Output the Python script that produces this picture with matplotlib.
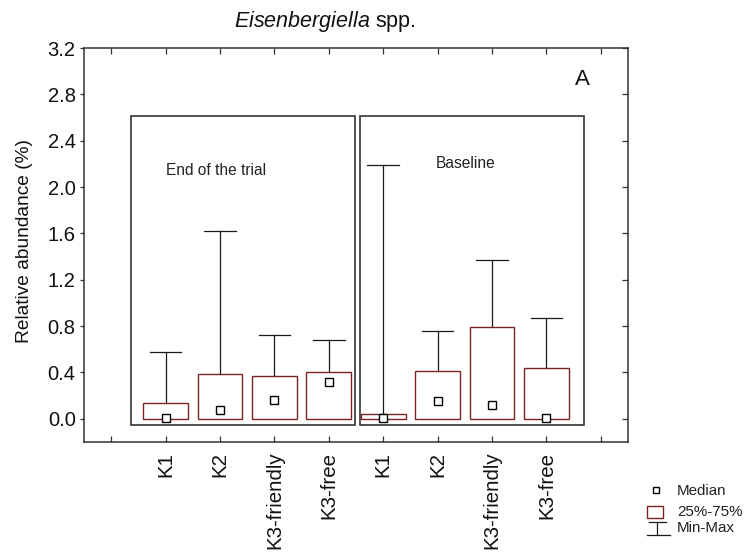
import matplotlib
matplotlib.use("Agg")
import matplotlib.pyplot as plt
from matplotlib.patches import Rectangle
from matplotlib.lines import Line2D

plt.rcParams["font.family"] = ["Liberation Sans", "DejaVu Sans"]
plt.rcParams["mathtext.fontset"] = "custom"
plt.rcParams["mathtext.it"] = "Liberation Sans:italic"
plt.rcParams["mathtext.rm"] = "Liberation Sans"

# Relative abundance of Eisenbergiella spp. per group (%)
groups = ["K1", "K2", "K3-friendly", "K3-free"]

end_q1 = [0.0, 0.0, 0.0, 0.0]
end_q3 = [0.14, 0.39, 0.37, 0.40]
end_median = [0.01, 0.08, 0.16, 0.32]
end_min = [0.0, 0.0, 0.0, 0.0]
end_max = [0.58, 1.62, 0.72, 0.68]

base_q1 = [0.0, 0.0, 0.0, 0.0]
base_q3 = [0.04, 0.41, 0.79, 0.44]
base_median = [0.01, 0.155, 0.12, 0.01]
base_min = [0.0, 0.0, 0.0, 0.0]
base_max = [2.19, 0.76, 1.37, 0.87]

period_labels = ["End of the trial", "Baseline"]
y_ticks = [0.0, 0.4, 0.8, 1.2, 1.6, 2.0, 2.4, 2.8, 3.2]

BOX_EDGE = "#7d2222"
LINE = "#1a1a1a"

W, H = 745, 559
fig = plt.figure(figsize=(W / 100, H / 100), dpi=100)
ax = fig.add_axes([84 / W, 1 - 442 / H, (628 - 84) / W, (442 - 48) / H])

box_w = 0.82
cap_w = 0.58

def draw_group(xs, q1, q3, med, mn, mx):
    for x, a, b, m, lo, hi in zip(xs, q1, q3, med, mn, mx):
        ax.plot([x, x], [b, hi], color=LINE, lw=0.9, zorder=2)
        ax.plot([x - cap_w / 2, x + cap_w / 2], [hi, hi], color=LINE, lw=0.9, zorder=2)
        ax.add_patch(Rectangle((x - box_w / 2, a), box_w, b - a, facecolor="none",
                               edgecolor=BOX_EDGE, lw=1.0, zorder=3))
        ax.plot([x], [m], marker="s", ms=5.5, mfc="white", mec="black", mew=1.0,
                ls="none", zorder=4)

end_x = [1, 2, 3, 4]
base_x = [5, 6, 7, 8]
draw_group(end_x, end_q1, end_q3, end_median, end_min, end_max)
draw_group(base_x, base_q1, base_q3, base_median, base_min, base_max)

# Period frames
frame_top = 2.61
frame_bottom = -0.055
for (left, right), label, (tx, ty) in zip(
        [(0.37, 4.49), (4.57, 8.69)], period_labels,
        [(1.93, 2.14), (6.52, 2.20)]):
    ax.add_patch(Rectangle((left, frame_bottom), right - left, frame_top - frame_bottom,
                           facecolor="none", edgecolor="#333333", lw=1.2, zorder=1))
    ax.text(tx, ty, label, fontsize=11.2, ha="center", va="center", color="#222222")

ax.text(8.66, 2.93, "A", fontsize=16, ha="center", va="center", color="#111111")

ax.set_xlim(-0.5, 9.5)
ax.set_ylim(-0.2, 3.2)
ax.set_xticks(range(10))
ax.set_xticklabels([""] + groups + groups + [""], rotation=90, fontsize=14.8)
ax.set_yticks(y_ticks)
ax.set_yticklabels([f"{v:.1f}" for v in y_ticks], fontsize=14.5)
ax.tick_params(axis="x", direction="in", length=4, width=0.9, top=True, pad=7, colors="#333333",
               labelcolor="#111111")
ax.tick_params(axis="y", direction="out", length=3, width=0.9, pad=3, colors="#333333",
               labelcolor="#111111")
ax.tick_params(axis="y", which="both", right=True)
for t in ax.yaxis.get_major_ticks():
    t.tick2line.set_marker(matplotlib.markers.TICKLEFT)
    t.tick2line.set_markersize(4)
ax.set_ylabel("Relative abundance (%)", fontsize=13.8, color="#111111")
ax.yaxis.set_label_coords(-0.094, 0.51)
for s in ax.spines.values():
    s.set_color("#333333")
    s.set_linewidth(1.1)

fig.text(325 / W, 1 - 22 / H, r"$\it{Eisenbergiella}$ spp.", fontsize=15.5,
         ha="center", va="center", color="#111111")

# Legend key drawn in pixel coordinates
lax = fig.add_axes([0, 0, 1, 1], facecolor="none")
lax.set_xlim(0, W)
lax.set_ylim(H, 0)
lax.axis("off")
lax.plot([656], [490], marker="s", ms=5, mfc="white", mec="black", mew=1.0, ls="none")
lax.add_patch(Rectangle((647, 506), 16, 12, facecolor="none", edgecolor=BOX_EDGE, lw=1.0))
lax.add_line(Line2D([649, 666], [522, 522], color=LINE, lw=0.9))
lax.add_line(Line2D([657, 657], [522, 535], color=LINE, lw=0.9))
lax.add_line(Line2D([647, 670], [535, 535], color=LINE, lw=0.9))
for y, txt in zip([491, 512, 528], ["Median", "25%-75%", "Min-Max"]):
    lax.text(677, y, txt, fontsize=10.9, ha="left", va="center", color="#222222")

fig.savefig("out.png", dpi=100)
